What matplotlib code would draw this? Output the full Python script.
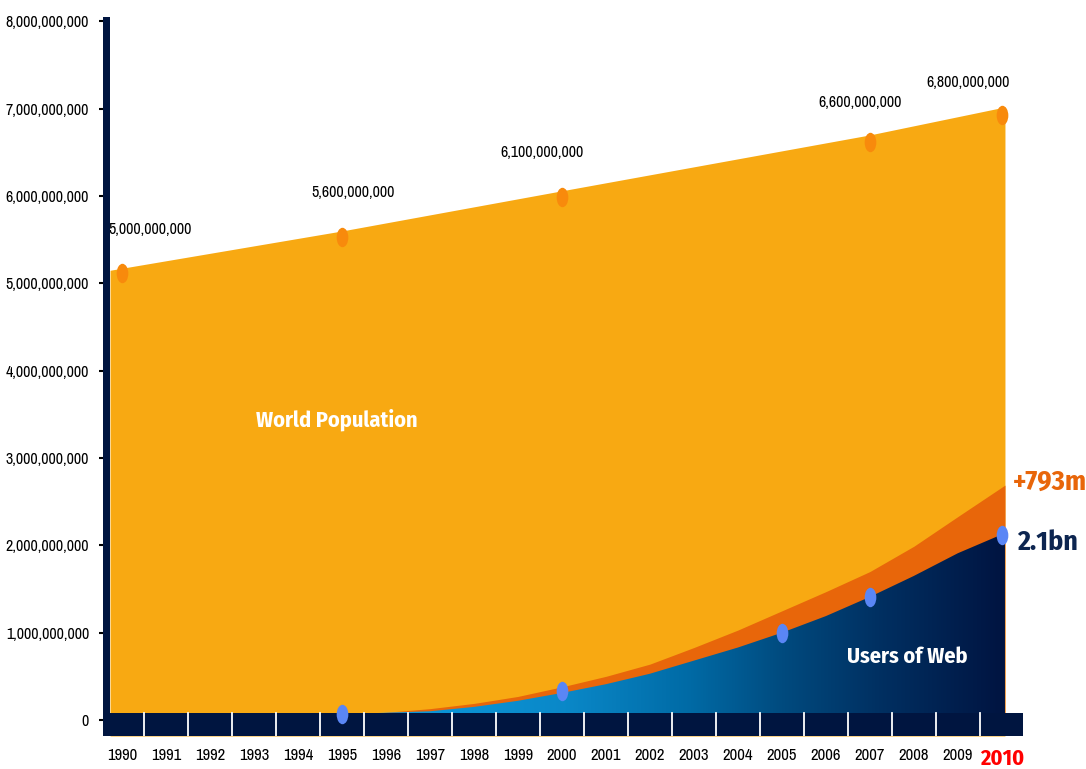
import numpy as np
import matplotlib
matplotlib.use('Agg')
import matplotlib.pyplot as plt
from matplotlib.colors import LinearSegmentedColormap
from matplotlib.path import Path

plt.rcParams['font.family'] = ['Archivo Narrow', 'DejaVu Sans']
BOLD = ['Fira Sans Condensed', 'DejaVu Sans']

# x axis years
years = list(range(1990, 2011))
year_labels = [str(y) for y in years]

# world population: outline of the orange area
pop_edge_x = [1989.73, 1995, 2000, 2007, 2010.07]
pop_edge = [5.15e9, 5.60e9, 6.06e9, 6.70e9, 7.02e9]

# world population: marked points and their labels
pop_years = [1990, 1995, 2000, 2007, 2010]
pop_values = [5.12e9, 5.53e9, 5.99e9, 6.62e9, 6.93e9]
pop_labels = ['5,000,000,000', '5,600,000,000', '6,100,000,000', '6,600,000,000', '6,800,000,000']

# users of web: outline of the blue area and of the orange growth band above it
web_x = [1995.8, 1997, 1998, 1999, 2000, 2001, 2002, 2003, 2004, 2005, 2006, 2007, 2008, 2009, 2010.07]
web_users = [0.08e9, 0.10e9, 0.15e9, 0.22e9, 0.31e9, 0.41e9, 0.53e9, 0.68e9, 0.83e9, 1.00e9,
             1.19e9, 1.41e9, 1.65e9, 1.91e9, 2.14e9]
web_growth = [0.08e9, 0.13e9, 0.19e9, 0.27e9, 0.38e9, 0.50e9, 0.64e9, 0.83e9, 1.03e9, 1.25e9,
              1.47e9, 1.70e9, 1.99e9, 2.33e9, 2.69e9]

# users of web: marked points
web_years = [1995, 2000, 2005, 2007, 2010]
web_values = [0.07e9, 0.33e9, 1.00e9, 1.41e9, 2.12e9]

yticks = [i * 1e9 for i in range(9)]

navy = '#001540'
orange = '#F8A912'
dark_orange = '#E8660A'

fig = plt.figure(figsize=(10.86, 7.69), dpi=100)
ax = fig.add_axes([103 / 1086, 1 - 736 / 769, 920 / 1086, 719 / 769])

x_left, x_right = 1989.57, 2010.48
y_bottom, y_top = -0.183e9, 8.05e9
band_top = 0.08e9

# orange population area
ax.fill_between(pop_edge_x, y_bottom, pop_edge, color=orange, lw=0, zorder=2)

# orange growth band
ax.fill_between(web_x, band_top, web_growth, color=dark_orange, lw=0, zorder=3)

# blue area with horizontal gradient
cmap = LinearSegmentedColormap.from_list('web', [
    (0.0, '#0a9ade'), (0.3, '#0a88c8'), (0.5, '#006aa5'),
    (0.65, '#004a7e'), (0.8, '#003062'), (1.0, '#001441')])
grad = np.linspace(0, 1, 256).reshape(1, -1)
im = ax.imshow(grad, extent=[web_x[0], web_x[-1], y_bottom, 2.3e9], aspect='auto',
               cmap=cmap, zorder=4, origin='lower')
blue = ax.fill_between(web_x, band_top, web_users, facecolor='none', lw=0, zorder=4)
im.set_clip_path(blue.get_paths()[0], transform=ax.transData)

# points as upright ellipses
circ = Path.unit_circle()
ell = Path(circ.vertices * [0.6, 1.0], circ.codes)
ax.plot(pop_years, pop_values, ls='none', marker=ell, ms=14, color='#F88A0C', mec='none', zorder=6)
ax.plot(web_years, web_values, ls='none', marker=ell, ms=14, color='#5A86F5', mec='none', zorder=6)

# value labels above population points
offsets = [(20, 31), (8, 32), (-14, 32), (-7, 28), (-24, 23)]
for x, y, lab, off in zip(pop_years, pop_values, pop_labels, offsets):
    ax.annotate(lab, (x, y), xytext=off, textcoords='offset points',
                ha='center', va='center', fontsize=11.5, color='black')

# bottom band and left axis bar
ax.axhspan(y_bottom, band_top, xmin=0, xmax=1, color=navy, lw=0, zorder=5)
for y in years[:-1]:
    ax.plot([y + 0.5, y + 0.5], [y_bottom, band_top], color='white', lw=1.3, zorder=5.5)
ax.axvspan(x_left, 1989.73, color=navy, lw=0, zorder=5)

# text
ax.text(1994.89, 3.44e9, 'World Population', color='white', fontsize=16, family=BOLD,
        fontweight='bold', ha='center', va='center', zorder=7)
ax.text(2007.84, 0.72e9, 'Users of Web', color='white', fontsize=16, family=BOLD,
        fontweight='bold', ha='center', va='center', zorder=7)
ax.text(2010.25, 2.73e9, '+793m', color=dark_orange, fontsize=20, family=BOLD,
        fontweight='bold', ha='left', va='center', clip_on=False, zorder=7)
ax.text(2010.34, 2.03e9, '2.1bn', color='#0d2550', fontsize=20, family=BOLD,
        fontweight='bold', ha='left', va='center', clip_on=False, zorder=7)

ax.set_xlim(x_left, x_right)
ax.set_ylim(y_bottom, y_top)
ax.set_xticks(years)
ax.set_xticklabels(year_labels, fontsize=12)
lab2010 = ax.get_xticklabels()[-1]
lab2010.set_color('#FF0000')
lab2010.set_family(BOLD)
lab2010.set_fontweight('bold')
lab2010.set_fontsize(16)
ax.tick_params(axis='x', length=0, pad=9)
ax.set_yticks(yticks)
ax.set_yticklabels(['{:,}'.format(int(v)) for v in yticks], fontsize=11.5)
ax.tick_params(axis='y', length=3, width=1.5, color='black', pad=7)
for s in ax.spines.values():
    s.set_visible(False)

fig.savefig('out.png', dpi=100)
